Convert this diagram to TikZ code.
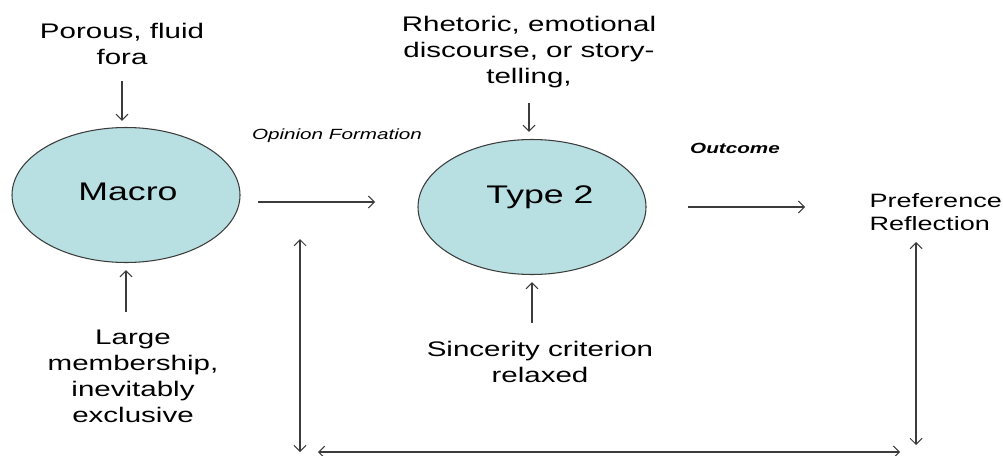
\documentclass[tikz,border=0pt]{standalone}
\usepackage{fontspec}
\usepackage{tikz}
\usetikzlibrary{shapes.geometric,arrows.meta}
\newfontfamily\pptfont[FakeStretch=1.4]{Liberation Sans}
\definecolor{bubble}{HTML}{B8DFE2}
\definecolor{ink}{HTML}{3C3C3C}

\begin{document}
\begin{tikzpicture}[x=0.2mm,y=-0.2mm,line width=0.6pt,
    blob/.style={ellipse,draw=ink,fill=bubble,minimum width=45.6mm,minimum height=27mm,inner sep=0pt},
    bigtxt/.style={inner sep=0pt,font=\pptfont\fontsize{14.5}{17}\selectfont},
    txt/.style={align=center,inner sep=0pt,font=\pptfont\fontsize{12}{14.8}\selectfont},
    tag/.style={inner sep=0pt,font=\pptfont\fontsize{8.4}{10}\selectfont\itshape},
    arr/.style={draw=ink,-{Straight Barb[length=1.2mm,width=2.4mm]}},
    both/.style={draw=ink,{Straight Barb[length=1.2mm,width=2.4mm]}-{Straight Barb[length=1.2mm,width=2.4mm]}}]
    \useasboundingbox (0,0) rectangle (1003,455);
    % the two fora
    \node[blob] (macro) at (126,195) {};
    \node[bigtxt] (macrotxt) at (128,192) {Macro};
    \node[blob] (type2) at (532,207) {};
    \node[bigtxt] (type2txt) at (540,197) {Type 2};
    % conditions
    \node[txt] (porous) at (122,44) {Porous, fluid\\fora};
    \node[txt] (rhetoric) at (529,52) {Rhetoric, emotional\\discourse, or story-\\telling,};
    \node[txt] (large) at (133,376) {Large\\membership,\\inevitably\\exclusive};
    \node[txt] (sincerity) at (540,362) {Sincerity criterion\\relaxed};
    \node[anchor=west,align=left,inner sep=0pt,font=\pptfont\fontsize{11}{13}\selectfont]
      (pref) at (869,212) {Preference\\Reflection};
    \node[tag] (opinion) at (337,136) {Opinion Formation};
    \node[tag,font=\pptfont\fontsize{8.4}{10}\selectfont\bfseries\itshape] (outcome) at (735,148) {Outcome};
    % free ends
    \coordinate (opinA) at (258,202);
    \coordinate (opinB) at (375,202);
    \coordinate (loopA) at (300,239);
    \coordinate (loopB) at (300,452);
    \coordinate (loopC) at (318,452);
    \coordinate (loopD) at (900,452);
    \coordinate (loopE) at (916,242);
    \coordinate (loopF) at (916,445);
    % arrows
    \draw[arr,shorten <=3.2mm,shorten >=1.2mm] (porous.south) -- (porous.south |- macro.north);
    \draw[arr,shorten <=3mm,shorten >=1.4mm] (rhetoric.south) -- (rhetoric.south |- type2.north);
    \draw[arr,shorten <=3.4mm,shorten >=1.4mm] (macro.south |- large.north) -- (macro.south);
    \draw[arr,shorten <=3.6mm,shorten >=1.4mm] (type2.south |- sincerity.north) -- (type2.south);
    \draw[arr] (opinA) -- (opinB);
    \draw[arr,shorten <=8.2mm,shorten >=12.8mm] (type2.east) -- (type2.east -| pref.west);
    \draw[both] (loopA) -- (loopB);
    \draw[both] (loopC) -- (loopD);
    \draw[both] (loopE) -- (loopF);
\end{tikzpicture}
\end{document}
